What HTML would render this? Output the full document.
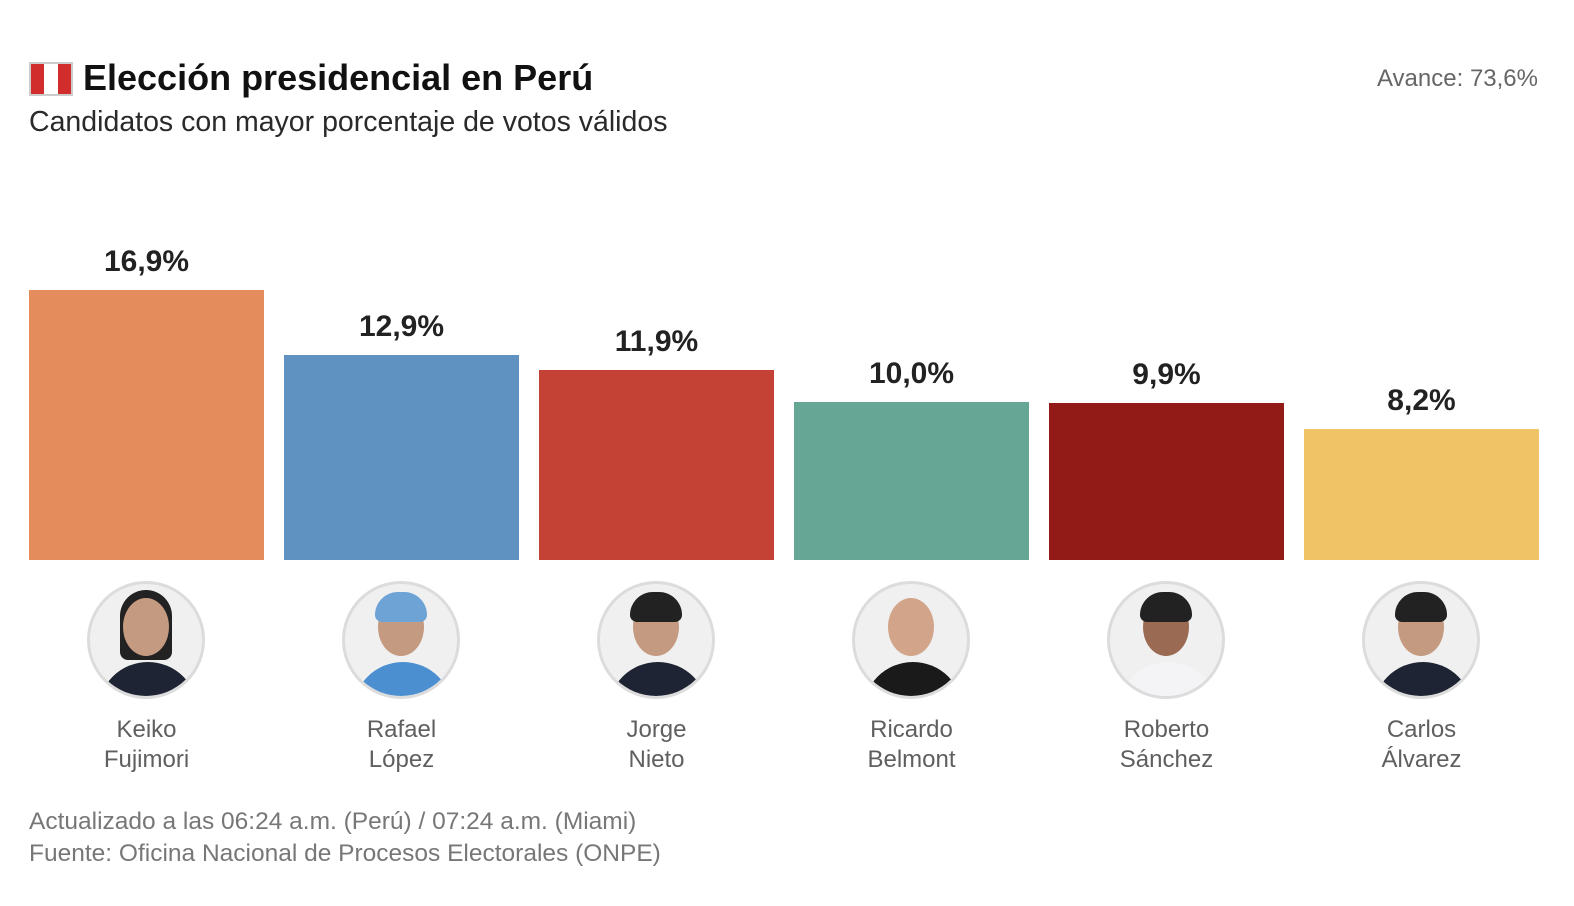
<!DOCTYPE html>
<html><head><meta charset="utf-8"><style>
*{margin:0;padding:0;box-sizing:border-box}
html,body{width:1574px;height:906px;overflow:hidden}
body{background:#fff;font-family:"Liberation Sans",sans-serif;position:relative}
.a{position:absolute;white-space:nowrap}
.bar{position:absolute;width:235px}
.lab{position:absolute;width:235px;text-align:center;font-weight:bold;font-size:30px;color:#222}
.circ{position:absolute;width:118px;height:118px;border-radius:50%;background:#f0f0f0;border:3px solid #dcdcdc;overflow:hidden}
.head{position:absolute;left:33px;top:14px;width:46px;height:58px;border-radius:50%;background:#c49a80}
.hair{position:absolute;left:30px;top:8px;width:52px;height:30px;border-radius:26px 26px 8px 8px;background:#222}
.body{position:absolute;left:8px;top:78px;width:100px;height:60px;border-radius:50px 50px 0 0;background:#1e2433}
.name{position:absolute;width:235px;text-align:center;font-size:24px;color:#5f5f5f;line-height:30px;top:715px}
</style></head><body>
<div class="a" style="left:29px;top:62px;width:44px;height:34px;border:2px solid #ccc;background:linear-gradient(90deg,#d12d2d 0 33%,#fff 33% 67%,#d12d2d 67%)"></div>
<div class="a" style="left:83px;top:57px;font-size:36px;font-weight:bold;color:#111">Elección presidencial en Perú</div>
<div class="a" style="left:29px;top:106px;font-size:28.5px;color:#2a2a2a">Candidatos con mayor porcentaje de votos válidos</div>
<div class="a" style="right:36px;top:65px;font-size:24px;color:#666">Avance: 73,6%</div>

<div class="bar" style="left:29px;top:290px;height:270px;background:#e48c5b"></div>
<div class="bar" style="left:284px;top:355px;height:205px;background:#5f92c1"></div>
<div class="bar" style="left:539px;top:370px;height:190px;background:#c44235"></div>
<div class="bar" style="left:794px;top:402px;height:158px;background:#66a695"></div>
<div class="bar" style="left:1049px;top:403px;height:157px;background:#921a17"></div>
<div class="bar" style="left:1304px;top:429px;height:131px;background:#f0c367"></div>

<div class="lab" style="left:29px;top:245px">16,9%</div>
<div class="lab" style="left:284px;top:310px">12,9%</div>
<div class="lab" style="left:539px;top:325px">11,9%</div>
<div class="lab" style="left:794px;top:357px">10,0%</div>
<div class="lab" style="left:1049px;top:358px">9,9%</div>
<div class="lab" style="left:1304px;top:384px">8,2%</div>

<div class="circ" style="left:87px;top:581px"><div class="hair" style="height:70px;top:6px"></div><div class="head"></div><div class="body"></div></div>
<div class="circ" style="left:342px;top:581px"><div class="head"></div><div class="hair" style="background:#6ea3d6"></div><div class="body" style="background:#4c8fd0"></div></div>
<div class="circ" style="left:597px;top:581px"><div class="head"></div><div class="hair"></div><div class="body"></div></div>
<div class="circ" style="left:852px;top:581px"><div class="head" style="background:#d2a58a"></div><div class="body" style="background:#1a1a1a"></div></div>
<div class="circ" style="left:1107px;top:581px"><div class="head" style="background:#9a6a52"></div><div class="hair"></div><div class="body" style="background:#f4f4f6"></div></div>
<div class="circ" style="left:1362px;top:581px"><div class="head"></div><div class="hair"></div><div class="body"></div></div>

<div class="name" style="left:29px">Keiko<br>Fujimori</div>
<div class="name" style="left:284px">Rafael<br>López</div>
<div class="name" style="left:539px">Jorge<br>Nieto</div>
<div class="name" style="left:794px">Ricardo<br>Belmont</div>
<div class="name" style="left:1049px">Roberto<br>Sánchez</div>
<div class="name" style="left:1304px">Carlos<br>Álvarez</div>

<div class="a" style="left:29px;top:806px;font-size:24.5px;color:#777;line-height:32px">Actualizado a las 06:24 a.m. (Perú) / 07:24 a.m. (Miami)<br>Fuente: Oficina Nacional de Procesos Electorales (ONPE)</div>
</body></html>
